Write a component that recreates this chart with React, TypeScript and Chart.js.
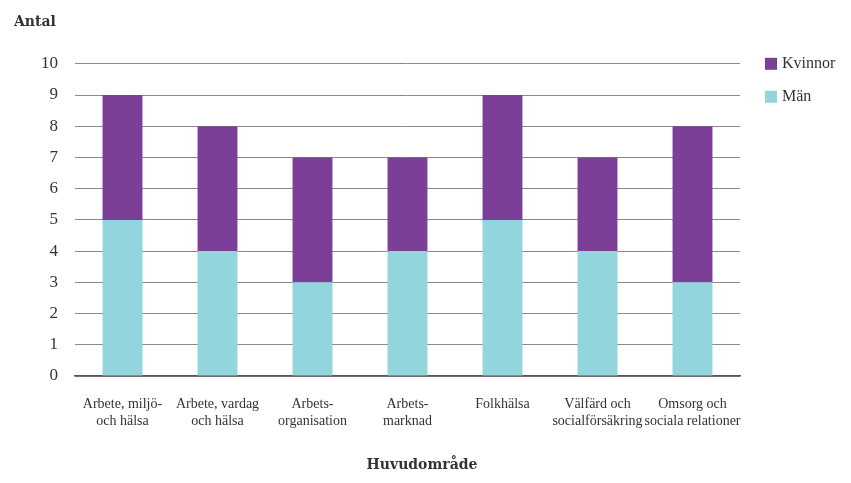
import React, { useEffect, useRef } from "react";
import { Chart, registerables } from "chart.js";

Chart.register(...registerables);

const categories: string[][] = [
  ["Arbete, miljö-", "och hälsa"],
  ["Arbete, vardag", "och hälsa"],
  ["Arbets-", "organisation"],
  ["Arbets-", "marknad"],
  ["Folkhälsa"],
  ["Välfärd och", "socialförsäkring"],
  ["Omsorg och", "sociala relationer"],
];
const man: number[] = [5, 4, 3, 4, 5, 4, 3];
const kvinnor: number[] = [4, 4, 4, 3, 4, 3, 5];
const yTitle = "Antal";
const xTitle = "Huvudområde";

const PURPLE = "#7b3f98";
const TEAL = "#93d5dc";
const TEXT = "#333333";
const LABEL_FONT = "'Liberation Serif', serif";
const TITLE_FONT = "'DejaVu Serif', serif";

const legendPlugin = {
  id: "customLegend",
  afterDraw(chart: any) {
    const ctx = chart.ctx;
    const x = chart.chartArea.right + 25;
    const y0 = chart.chartArea.top;
    const items = [...chart.data.datasets].reverse();
    ctx.save();
    ctx.font = `16px ${LABEL_FONT}`;
    ctx.textBaseline = "middle";
    ctx.textAlign = "left";
    items.forEach((ds: any, i: number) => {
      const y = y0 + i * 33;
      ctx.fillStyle = ds.backgroundColor;
      ctx.fillRect(x, y - 6, 12, 12);
      ctx.fillStyle = TEXT;
      ctx.fillText(ds.label, x + 17, y);
    });
    // x-axis title
    ctx.font = `bold 14px ${TITLE_FONT}`;
    ctx.textAlign = "center";
    ctx.fillText(xTitle, 422, 465);
    ctx.restore();
  },
};

export default function App() {
  const ref = useRef<HTMLCanvasElement | null>(null);
  useEffect(() => {
    if (!ref.current) return;
    const chart = new Chart(ref.current, {
      type: "bar",
      data: {
        labels: categories,
        datasets: [
          { label: "Män", data: man, backgroundColor: TEAL },
          { label: "Kvinnor", data: kvinnor, backgroundColor: PURPLE },
        ],
      },
      options: {
        responsive: false,
        animation: false,
        layout: { padding: { left: 14, right: 111, top: 0, bottom: 33 } },
        datasets: {
          bar: { barPercentage: 0.42, categoryPercentage: 1 },
        } as any,
        plugins: {
          legend: { display: false },
          tooltip: { enabled: false },
          title: {
            display: true,
            text: yTitle,
            align: "start",
            color: TEXT,
            font: { family: TITLE_FONT, size: 14, weight: "bold" },
            padding: { top: 14, bottom: 33 },
          },
        },
        scales: {
          x: {
            stacked: true,
            grid: { display: false, drawTicks: false },
            border: { display: true, color: "#555555", width: 1.5 },
            ticks: {
              color: TEXT,
              font: { family: LABEL_FONT, size: 14, lineHeight: "17px" as any },
              padding: 20,
              maxRotation: 0,
              autoSkip: false,
            },
          },
          y: {
            stacked: true,
            min: 0,
            max: 10,
            afterFit: (scale: any) => {
              scale.width = 61;
            },
            grid: { color: "#8a8a8a", lineWidth: 1, drawTicks: false },
            border: { display: false },
            ticks: {
              stepSize: 1,
              color: TEXT,
              font: { family: LABEL_FONT, size: 17 },
              padding: 17,
            },
          },
        },
      },
      plugins: [legendPlugin],
    });
    return () => chart.destroy();
  }, []);
  return (
    <div style={{ position: "fixed", left: 0, top: 0, width: 851, height: 483, background: "#fff" }}>
      <canvas ref={ref} width={851} height={483} style={{ display: "block" }} />
    </div>
  );
}
